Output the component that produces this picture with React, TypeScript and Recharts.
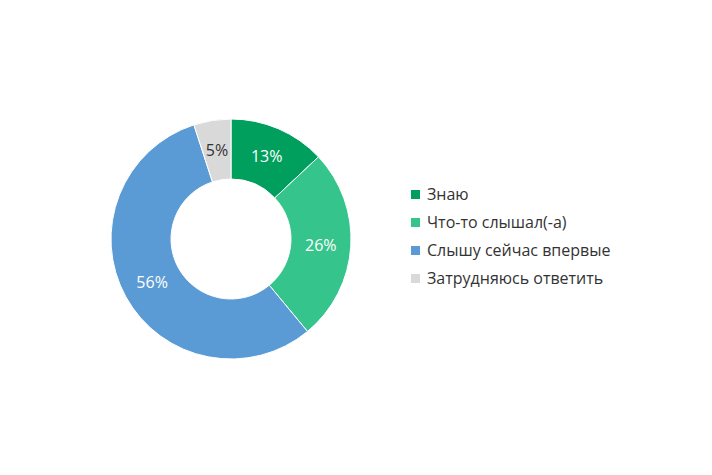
import { PieChart, Pie, Cell, Legend } from 'recharts'

const categories = ['Знаю', 'Что-то слышал(-а)', 'Слышу сейчас впервые', 'Затрудняюсь ответить']
const values = [13, 26, 56, 5]
const colors = ['#009F5E', '#35C48B', '#5B9BD5', '#D9D9D9']
const labelColors = ['#FFFFFF', '#FFFFFF', '#FFFFFF', '#333333']

const data = categories.map((name, i) => ({ name, value: values[i] }))

const RADIAN = Math.PI / 180

function SliceLabel(props: any) {
  const { cx, cy, midAngle, innerRadius, outerRadius, index, value } = props
  const r = (innerRadius + outerRadius) / 2
  const x = cx + r * Math.cos(-midAngle * RADIAN)
  const y = cy + r * Math.sin(-midAngle * RADIAN)
  return (
    <text
      x={x}
      y={y}
      fill={labelColors[index]}
      textAnchor="middle"
      dominantBaseline="central"
      fontSize={16}
      fontFamily="'Open Sans', sans-serif"
    >
      {value}%
    </text>
  )
}

function LegendContent() {
  return (
    <div style={{ fontFamily: "'Open Sans', sans-serif", fontSize: 16, color: '#333333' }}>
      {categories.map((c, i) => (
        <div key={c} style={{ display: 'flex', alignItems: 'center', height: 28 }}>
          <span
            style={{ width: 9, height: 9, background: colors[i], marginRight: 7, display: 'inline-block' }}
          />
          {c}
        </div>
      ))}
    </div>
  )
}

export default function App() {
  return (
    <div style={{ position: 'absolute', left: 0, top: 0, width: 712, height: 475, background: '#fff' }}>
      <PieChart width={712} height={475}>
        <Pie
          data={data}
          dataKey="value"
          nameKey="name"
          cx={226}
          cy={234}
          innerRadius={60}
          outerRadius={120}
          startAngle={90}
          endAngle={-270}
          stroke="#fff"
          strokeWidth={1}
          label={SliceLabel}
          labelLine={false}
          isAnimationActive={false}
        >
          {data.map((d, i) => (
            <Cell key={d.name} fill={colors[i]} />
          ))}
        </Pie>
        <Legend
          content={<LegendContent />}
          layout="vertical"
          wrapperStyle={{ left: 411, top: 180, width: 260, bottom: 'auto' }}
        />
      </PieChart>
    </div>
  )
}
